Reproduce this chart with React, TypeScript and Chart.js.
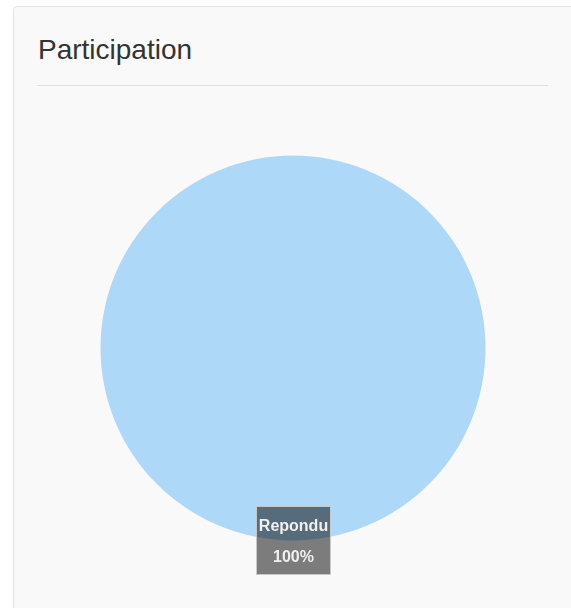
import React, { useEffect, useRef } from "react";
import { Chart, registerables } from "chart.js";

Chart.register(...registerables);

const title = "Participation";
const categories = ["Repondu"];
const values = [100];
const sliceColors = ["#aed8f7"];

const labelPlugin = {
  id: "bottomLabel",
  afterDraw(chart: any) {
    const meta = chart.getDatasetMeta(0);
    const arc = meta.data[0];
    if (!arc) return;
    const { x, y, outerRadius } = arc.getProps(["x", "y", "outerRadius"], true);
    const ds = chart.data.datasets[0].data as number[];
    const total = ds.reduce((a, b) => a + b, 0);
    const pct = Math.round((ds[0] / total) * 100) + "%";
    const label = chart.data.labels[0] as string;
    const ctx = chart.ctx;
    const w = 75;
    const h = 69;
    const cx = x + 0.5;
    const cy = y + outerRadius;
    ctx.save();
    ctx.fillStyle = "rgba(0,0,0,0.5)";
    ctx.fillRect(cx - w / 2, cy - h / 2, w, h);
    ctx.strokeStyle = "rgba(210,210,210,0.9)";
    ctx.lineWidth = 1;
    ctx.strokeRect(Math.round(cx - w / 2) + 0.5, Math.round(cy - h / 2) + 0.5, w - 1, h - 1);
    ctx.fillStyle = "#f0f0f0";
    ctx.textAlign = "center";
    ctx.textBaseline = "alphabetic";
    ctx.font = "bold 16px 'Liberation Sans', Arial, sans-serif";
    ctx.fillText(label, cx, cy - 9.5);
    ctx.fillText(pct, cx, cy + 21.5);
    ctx.restore();
  },
};

export default function App() {
  const ref = useRef<HTMLCanvasElement>(null);
  useEffect(() => {
    document.body.style.margin = "0";
    document.body.style.overflow = "hidden";
    const chart = new Chart(ref.current!, {
      type: "pie",
      data: {
        labels: categories,
        datasets: [
          {
            data: values,
            backgroundColor: sliceColors,
            borderWidth: 0,
          },
        ],
      },
      options: {
        animation: false,
        responsive: false,
        maintainAspectRatio: false,
        layout: { padding: { top: 7, bottom: 47, left: 7.5, right: 7.5 } },
        plugins: {
          legend: { display: false },
          tooltip: { enabled: false },
        },
      },
      plugins: [labelPlugin],
    });
    return () => chart.destroy();
  }, []);

  return (
    <div
      style={{
        position: "fixed",
        inset: 0,
        overflow: "hidden",
        background: "#ffffff",
        fontFamily: "'Liberation Sans', Arial, sans-serif",
      }}
    >
      <div
        style={{
          position: "absolute",
          left: 13,
          top: 6,
          width: 600,
          height: 640,
          background: "#f9f9f9",
          border: "1px solid #e3e3e3",
          borderRadius: 4,
          boxSizing: "border-box",
        }}
      />
      <div
        style={{
          position: "absolute",
          left: 38,
          top: 34,
          fontSize: 28,
          lineHeight: "32px",
          color: "#333333",
          whiteSpace: "nowrap",
        }}
      >
        {title}
      </div>
      <div
        style={{
          position: "absolute",
          left: 37,
          top: 85,
          width: 511,
          height: 0,
          borderTop: "1px solid #dfdfdf",
        }}
      />
      <canvas
        ref={ref}
        width={400}
        height={440}
        style={{ position: "absolute", left: 93, top: 148, width: 400, height: 440 }}
      />
    </div>
  );
}
